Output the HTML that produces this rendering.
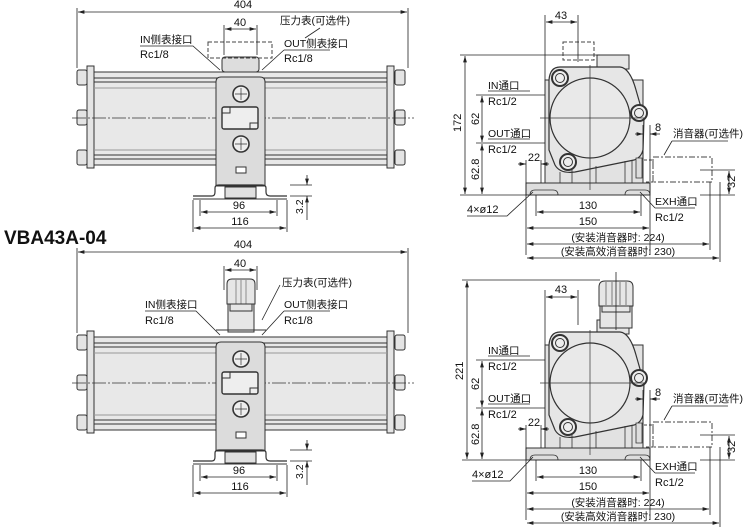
<!DOCTYPE html>
<html><head><meta charset="utf-8"><style>
html,body{margin:0;padding:0;background:#fff;width:752px;height:528px;overflow:hidden}
svg{display:block}
text{font-family:"Liberation Sans","Noto Sans CJK SC",sans-serif;fill:#111}
</style></head><body>
<svg width="752" height="528" viewBox="0 0 752 528" xmlns="http://www.w3.org/2000/svg">
<defs>
<marker id="a" viewBox="0 0 10 6" refX="10" refY="3" markerWidth="8" markerHeight="5" orient="auto-start-reverse"><path d="M0,0 L10,3 L0,6 Z" fill="#222"/></marker>
<g id="lb" stroke="#333" stroke-width="1">
  <g fill="#e4e4e4">
    <rect x="77" y="70" width="10" height="15" rx="2"/><rect x="77" y="110" width="10" height="15" rx="2"/><rect x="77" y="150" width="10" height="15" rx="2"/>
    <rect x="395" y="70" width="10" height="15" rx="2"/><rect x="395" y="110" width="10" height="15" rx="2"/><rect x="395" y="150" width="10" height="15" rx="2"/>
    <rect x="87" y="66" width="7" height="102"/><rect x="387" y="66" width="7" height="102"/>
    <rect x="94" y="72" width="293" height="93" fill="#e8e8e8"/>
  </g>
  <line x1="94" y1="78" x2="387" y2="78"/><line x1="94" y1="82" x2="387" y2="82"/>
  <line x1="94" y1="88" x2="387" y2="88" stroke="#999"/>
  <line x1="94" y1="150" x2="387" y2="150" stroke="#999"/>
  <line x1="94" y1="155" x2="387" y2="155"/><line x1="94" y1="159" x2="387" y2="159"/>
  <line x1="72" y1="118" x2="414" y2="118" stroke-width="0.7" stroke-dasharray="14,2,2,2"/>
  <path d="M216 186 L216 82 Q216 77 221 77 L260 77 Q265 77 265 82 L265 186 Z" fill="#dcdcdc"/>
  <circle cx="241" cy="94" r="8" fill="#eee" stroke-width="1.6"/><path d="M235 94h12M241 88v12" stroke-width="0.7"/>
  <circle cx="241" cy="144" r="8" fill="#eee" stroke-width="1.6"/><path d="M235 144h12M241 138v12" stroke-width="0.7"/>
  <rect x="222" y="107" width="36" height="22" rx="2" fill="#eee" stroke-width="1.4"/>
  <path d="M222 113h8v-6M258 123h-8v6" fill="none"/>
  <rect x="236" y="167" width="10" height="6" fill="#fff"/>
  <path d="M193 196 L212 196 Q215 196 215 192 L215 188 Q215 185 219 185 L262 185 Q266 185 266 188 L266 192 Q266 196 270 196 L287 196" fill="none" stroke-width="1.2"/>
  <line x1="193" y1="199" x2="287" y2="199"/>
  <rect x="225" y="187" width="31" height="11" fill="#e0e0e0"/>
</g>
<g id="rb" stroke="#333" stroke-width="1">
  <rect x="545" y="80" width="98" height="103" fill="#e2e2e2"/>
  <rect x="597" y="55" width="32" height="14" fill="#e6e6e6"/>
  <path d="M560 67 L620 67 Q630 68 636 90 L644 118 L643 150 Q641 158 634 160 L575 172 Q560 174 555 165 L549 150 L549 80 Q550 67 560 67 Z" fill="#e6e6e6" stroke-width="1.2"/>
  <circle cx="590" cy="118" r="40" fill="#e9e9e9" stroke-width="1.2"/>
  <circle cx="560" cy="78" r="8" fill="#eee" stroke-width="2"/><circle cx="560" cy="78" r="4.5" fill="none"/>
  <circle cx="639" cy="113" r="8" fill="#eee" stroke-width="2"/><circle cx="639" cy="113" r="4.5" fill="none"/>
  <circle cx="568" cy="162" r="8" fill="#eee" stroke-width="2"/><circle cx="568" cy="162" r="4.5" fill="none"/>
  <path d="M560 172v11M572 170v13M596 166v17M625 161v22M632 160v23" stroke-width="0.8"/>
  <rect x="526" y="183" width="124" height="12" fill="#dedede"/>
  <path d="M530 195 q0-5 5-5 h18 q5 0 5 5 M625 195 q0-5 5-5 h15 q5 0 5 5" fill="none" stroke-width="0.8"/>
  <path d="M540 118h105M590 65v125" stroke-width="0.7"/>
  <path d="M636 158v20h6v-20z" fill="#ddd" stroke-width="0.8"/>
</g>
</defs>

<g font-size="11">
<!-- ===== top-left view ===== -->
<use href="#lb"/>
<rect x="222" y="57" width="37" height="15" rx="3" fill="#ddd" stroke="#333"/>
<rect x="208" y="42" width="64" height="16" fill="none" stroke="#444" stroke-dasharray="4,2"/>
<g stroke="#222" stroke-width="0.8" fill="none">
 <path d="M77 68V8M408 68V8M224 55V25M257 55V25"/>
 <line x1="78" y1="12" x2="407" y2="12" marker-start="url(#a)" marker-end="url(#a)"/>
 <line x1="225" y1="29" x2="256" y2="29" marker-start="url(#a)" marker-end="url(#a)"/>
 <path d="M140 46H193L220 70M284 50H330M284 50L262 70M320 28L305 38"/>
 <path d="M193 200V232M287 200V232M200 200V216M277 200V216"/>
 <line x1="201" y1="212" x2="276" y2="212" marker-start="url(#a)" marker-end="url(#a)"/>
 <line x1="194" y1="228" x2="286" y2="228" marker-start="url(#a)" marker-end="url(#a)"/>
 <path d="M290 185H312M290 196H312"/>
 <line x1="307" y1="175" x2="307" y2="185" marker-end="url(#a)"/>
 <line x1="307" y1="220" x2="307" y2="196" marker-end="url(#a)"/>
</g>
<text x="243" y="8" text-anchor="middle">404</text>
<text x="240" y="26" text-anchor="middle">40</text>
<text x="280" y="24" font-size="10.5">压力表(可选件)</text>
<text x="140" y="43" font-size="10.5">IN侧表接口</text>
<text x="140" y="58">Rc1/8</text>
<text x="284" y="47" font-size="10.5">OUT侧表接口</text>
<text x="284" y="62">Rc1/8</text>
<text x="239" y="209" text-anchor="middle">96</text>
<text x="240" y="225" text-anchor="middle">116</text>
<text transform="translate(303,214) rotate(-90)" font-size="10.5">3.2</text>

<text x="4" y="244" font-size="19" font-weight="bold">VBA43A-04</text>

<!-- ===== bottom-left view ===== -->
<use href="#lb" transform="translate(0,265)"/>
<g stroke="#333" fill="#e6e6e6">
 <rect x="228" y="300" width="26" height="32"/>
 <path d="M227 304 V284 Q227 279 232 279 L250 279 Q255 279 255 284 V304 Z"/>
 <path d="M241 280V304M236 280V304M246 280V304" stroke-width="0.5"/>
 <rect x="230" y="304" width="22" height="7"/>
 <path d="M216 330 h50" fill="none"/>
</g>
<g stroke="#222" stroke-width="0.8" fill="none">
 <path d="M77 333V248M408 333V248M224 290V266M257 290V266"/>
 <line x1="78" y1="252" x2="407" y2="252" marker-start="url(#a)" marker-end="url(#a)"/>
 <line x1="225" y1="270" x2="256" y2="270" marker-start="url(#a)" marker-end="url(#a)"/>
 <path d="M145 311H196L220 335M284 311H330M284 311L262 335M280 285L262 320"/>
 <path d="M193 465V497M287 465V497M200 465V481M277 465V481"/>
 <line x1="201" y1="477" x2="276" y2="477" marker-start="url(#a)" marker-end="url(#a)"/>
 <line x1="194" y1="493" x2="286" y2="493" marker-start="url(#a)" marker-end="url(#a)"/>
 <path d="M290 450H312M290 461H312"/>
 <line x1="307" y1="440" x2="307" y2="450" marker-end="url(#a)"/>
 <line x1="307" y1="485" x2="307" y2="461" marker-end="url(#a)"/>
</g>
<text x="243" y="248" text-anchor="middle">404</text>
<text x="240" y="267" text-anchor="middle">40</text>
<text x="282" y="286" font-size="10.5">压力表(可选件)</text>
<text x="145" y="308" font-size="10.5">IN侧表接口</text>
<text x="145" y="324">Rc1/8</text>
<text x="284" y="308" font-size="10.5">OUT侧表接口</text>
<text x="284" y="324">Rc1/8</text>
<text x="239" y="474" text-anchor="middle">96</text>
<text x="240" y="490" text-anchor="middle">116</text>
<text transform="translate(303,479) rotate(-90)" font-size="10.5">3.2</text>

<!-- ===== top-right view ===== -->
<use href="#rb"/>
<rect x="563" y="42" width="31" height="18" fill="none" stroke="#444" stroke-dasharray="4,2"/>
<rect x="653" y="157" width="59" height="25" fill="none" stroke="#444" stroke-dasharray="6,2,2,2"/>
<path d="M644 160h9v22h-9" fill="none" stroke="#444" stroke-dasharray="3,2"/>
<g stroke="#222" stroke-width="0.8" fill="none">
 <path d="M545 15V80M578 15V62"/>
 <line x1="546" y1="22" x2="577" y2="22" marker-start="url(#a)" marker-end="url(#a)"/>
 <path d="M460 55H600M460 195H526M476 95H545M476 143H545"/>
 <line x1="465" y1="125" x2="465" y2="56" marker-end="url(#a)"/>
 <line x1="465" y1="125" x2="465" y2="194" marker-end="url(#a)"/>
 <line x1="482" y1="119" x2="482" y2="96" marker-end="url(#a)"/>
 <line x1="482" y1="119" x2="482" y2="142" marker-end="url(#a)"/>
 <line x1="482" y1="170" x2="482" y2="144" marker-end="url(#a)"/>
 <line x1="482" y1="170" x2="482" y2="194" marker-end="url(#a)"/>
 <path d="M488 91H530M488 139H530"/>
 <path d="M526 160V255M541 160V183"/>
 <line x1="518" y1="164" x2="526" y2="164" marker-end="url(#a)"/>
 <line x1="549" y1="164" x2="541" y2="164" marker-end="url(#a)"/>
 <path d="M643 125V160M650 125V255"/>
 <line x1="635" y1="134" x2="643" y2="134" marker-end="url(#a)"/>
 <line x1="660" y1="134" x2="650" y2="134" marker-end="url(#a)"/>
 <path d="M672 141H728M672 141L664 155"/>
 <path d="M700 170H735M700 195H735M710 182V250M720 182V262"/>
 <line x1="729" y1="182" x2="729" y2="171" marker-end="url(#a)"/>
 <line x1="729" y1="182" x2="729" y2="194" marker-end="url(#a)"/>
 <path d="M536 195V216M641 195V216"/>
 <line x1="537" y1="212" x2="640" y2="212" marker-start="url(#a)" marker-end="url(#a)"/>
 <line x1="527" y1="228" x2="649" y2="228" marker-start="url(#a)" marker-end="url(#a)"/>
 <line x1="527" y1="244" x2="709" y2="244" marker-start="url(#a)" marker-end="url(#a)"/>
 <line x1="527" y1="258" x2="719" y2="258" marker-start="url(#a)" marker-end="url(#a)"/>
 <path d="M467 216H507L533 192M655 208H695M640 192L655 208"/>
</g>
<text x="561" y="19" text-anchor="middle">43</text>
<text transform="translate(461,132) rotate(-90)">172</text>
<text transform="translate(479,125) rotate(-90)">62</text>
<text transform="translate(479,180) rotate(-90)">62.8</text>
<text x="488" y="89" font-size="10.5">IN通口</text>
<text x="488" y="105">Rc1/2</text>
<text x="488" y="137" font-size="10.5">OUT通口</text>
<text x="488" y="153">Rc1/2</text>
<text x="534" y="161" text-anchor="middle">22</text>
<text x="655" y="131">8</text>
<text x="673" y="137" font-size="10.5">消音器(可选件)</text>
<text transform="translate(735,188) rotate(-90)">32</text>
<text x="467" y="213">4×ø12</text>
<text x="588" y="209" text-anchor="middle">130</text>
<text x="588" y="225" text-anchor="middle">150</text>
<text x="655" y="205" font-size="10.5">EXH通口</text>
<text x="655" y="221">Rc1/2</text>
<text x="618" y="241" text-anchor="middle" font-size="10.5">(安装消音器时: 224)</text>
<text x="618" y="255" text-anchor="middle" font-size="10.5">(安装高效消音器时: 230)</text>

<!-- ===== bottom-right view ===== -->
<use href="#rb" transform="translate(0,265)"/>
<g stroke="#333" fill="#e6e6e6">
 <rect x="600" y="304" width="32" height="24"/>
 <path d="M599 306 V287 Q599 281 605 281 L627 281 Q633 281 633 287 V306 Z"/>
 <path d="M606 282V305M612 282V305M620 282V305M626 282V305" stroke-width="0.6"/>
 <rect x="602" y="306" width="28" height="6"/>
</g>
<rect x="653" y="422" width="59" height="25" fill="none" stroke="#444" stroke-dasharray="6,2,2,2"/>
<path d="M644 425h9v22h-9" fill="none" stroke="#444" stroke-dasharray="3,2"/>
<g stroke="#222" stroke-width="0.8" fill="none">
 <path d="M545 290V345M578 290V325M616 272V330"/>
 <line x1="546" y1="297" x2="577" y2="297" marker-start="url(#a)" marker-end="url(#a)"/>
 <path d="M462 280H600M462 460H526M476 360H545M476 408H545"/>
 <line x1="467" y1="370" x2="467" y2="281" marker-end="url(#a)"/>
 <line x1="467" y1="370" x2="467" y2="459" marker-end="url(#a)"/>
 <line x1="482" y1="384" x2="482" y2="361" marker-end="url(#a)"/>
 <line x1="482" y1="384" x2="482" y2="407" marker-end="url(#a)"/>
 <line x1="482" y1="435" x2="482" y2="409" marker-end="url(#a)"/>
 <line x1="482" y1="435" x2="482" y2="459" marker-end="url(#a)"/>
 <path d="M488 356H530M488 404H530"/>
 <path d="M526 425V520M541 425V448"/>
 <line x1="518" y1="429" x2="526" y2="429" marker-end="url(#a)"/>
 <line x1="549" y1="429" x2="541" y2="429" marker-end="url(#a)"/>
 <path d="M643 390V425M650 390V520"/>
 <line x1="635" y1="399" x2="643" y2="399" marker-end="url(#a)"/>
 <line x1="660" y1="399" x2="650" y2="399" marker-end="url(#a)"/>
 <path d="M672 406H728M672 406L664 420"/>
 <path d="M700 435H735M700 460H735M710 447V515M720 447V527"/>
 <line x1="729" y1="447" x2="729" y2="436" marker-end="url(#a)"/>
 <line x1="729" y1="447" x2="729" y2="459" marker-end="url(#a)"/>
 <path d="M536 460V481M641 460V481"/>
 <line x1="537" y1="477" x2="640" y2="477" marker-start="url(#a)" marker-end="url(#a)"/>
 <line x1="527" y1="493" x2="649" y2="493" marker-start="url(#a)" marker-end="url(#a)"/>
 <line x1="527" y1="509" x2="709" y2="509" marker-start="url(#a)" marker-end="url(#a)"/>
 <line x1="527" y1="523" x2="719" y2="523" marker-start="url(#a)" marker-end="url(#a)"/>
 <path d="M472 481H510L533 457M655 473H695M640 457L655 473"/>
</g>
<text x="561" y="293" text-anchor="middle">43</text>
<text transform="translate(463,380) rotate(-90)">221</text>
<text transform="translate(479,390) rotate(-90)">62</text>
<text transform="translate(479,445) rotate(-90)">62.8</text>
<text x="488" y="354" font-size="10.5">IN通口</text>
<text x="488" y="370">Rc1/2</text>
<text x="488" y="402" font-size="10.5">OUT通口</text>
<text x="488" y="418">Rc1/2</text>
<text x="534" y="426" text-anchor="middle">22</text>
<text x="655" y="396">8</text>
<text x="673" y="402" font-size="10.5">消音器(可选件)</text>
<text transform="translate(735,453) rotate(-90)">32</text>
<text x="472" y="478">4×ø12</text>
<text x="588" y="474" text-anchor="middle">130</text>
<text x="588" y="490" text-anchor="middle">150</text>
<text x="655" y="470" font-size="10.5">EXH通口</text>
<text x="655" y="486">Rc1/2</text>
<text x="618" y="506" text-anchor="middle" font-size="10.5">(安装消音器时: 224)</text>
<text x="618" y="520" text-anchor="middle" font-size="10.5">(安装高效消音器时: 230)</text>
</g>
</svg>
</body></html>
